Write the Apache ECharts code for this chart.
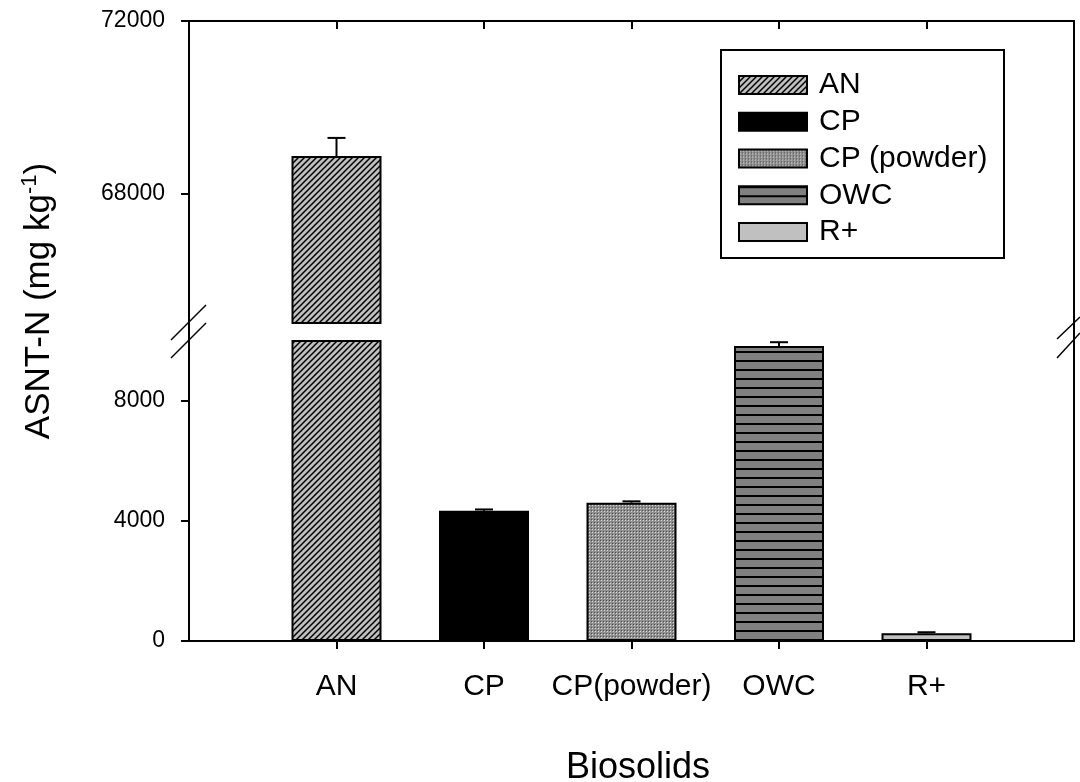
<!DOCTYPE html>
<html>
<head>
<meta charset="utf-8">
<script src="https://cdn.jsdelivr.net/npm/echarts@6/dist/echarts.min.js"></script>
<style>
  html, body { margin: 0; padding: 0; background: #fff; }
  #chart { width: 1080px; height: 782px; }
</style>
</head>
<body>
<div id="chart"></div>
<script>
// Ammonium-N in biosolids, broken y axis
const categories  = ['AN', 'CP', 'CP(powder)', 'OWC', 'R+'];
const legendNames = ['AN', 'CP', 'CP (powder)', 'OWC', 'R+'];
const values      = [68870, 4340, 4610, 9830, 257];
const errors      = [420, 45, 45, 130, 35];
const lowerTicks  = [0, 4000, 8000];
const upperTicks  = [68000, 72000];
const lowerRange  = [0, 10000];
const upperRange  = [65000, 72000];

const FONT = "'Liberation Sans', Arial, Helvetica, sans-serif";

// plot frame geometry
const L = 189, R = 1074, TOP = 21, UPPER_BOTTOM = 323, LOWER_TOP = 341, BOTTOM = 641;

function tile(w, h, draw) {
  const c = document.createElement('canvas');
  c.width = w; c.height = h;
  draw(c.getContext('2d'));
  return { image: c, repeat: 'repeat' };
}

const fills = [
  // diagonal hatch on light gray
  tile(6, 6, g => {
    g.fillStyle = '#c0c0c0'; g.fillRect(0, 0, 6, 6);
    g.strokeStyle = '#000'; g.lineWidth = 1.5;
    g.beginPath();
    g.moveTo(-1, 7); g.lineTo(7, -1);
    g.moveTo(-1, 1); g.lineTo(1, -1);
    g.moveTo(5, 7); g.lineTo(7, 5);
    g.stroke();
  }),
  '#000000',
  // fine dotted screen
  tile(3, 3, g => {
    g.fillStyle = '#8f8f8f'; g.fillRect(0, 0, 3, 3);
    g.fillStyle = '#d8d8d8'; g.fillRect(1, 1, 1, 1);
    g.fillStyle = '#505050'; g.fillRect(0, 0, 1, 1);
  }),
  // horizontal stripes on mid gray
  tile(4, 9, g => {
    g.fillStyle = '#808080'; g.fillRect(0, 0, 4, 9);
    g.fillStyle = '#000'; g.fillRect(0, 0, 4, 2);
  }),
  '#c0c0c0'
];

const xs = categories.map((c, i) => i + 1);

function barSeries(gridIdx, keep) {
  return categories.map((c, i) => ({
    type: 'bar',
    name: legendNames[i],
    xAxisIndex: gridIdx, yAxisIndex: gridIdx,
    data: keep(values[i]) ? [[xs[i], values[i]]] : [],
    barWidth: 90,
    barGap: '-100%',
    clip: true,
    itemStyle: { color: fills[i], borderColor: '#000', borderWidth: 2 },
    emphasis: { disabled: true },
    z: 2
  }));
}

function errorSeries(gridIdx, keep) {
  const data = [];
  values.forEach((v, i) => { if (keep(v)) data.push([xs[i], v, errors[i]]); });
  return {
    type: 'custom',
    xAxisIndex: gridIdx, yAxisIndex: gridIdx,
    data: data,
    z: 5,
    silent: true,
    renderItem: (params, api) => {
      const x = api.value(0), v = api.value(1), e = api.value(2);
      const p0 = api.coord([x, v]);
      const p1 = api.coord([x, v + e]);
      const st = { stroke: '#000', lineWidth: 2 };
      return {
        type: 'group',
        children: [
          { type: 'line', shape: { x1: p0[0], y1: p0[1], x2: p1[0], y2: p1[1] }, style: st },
          { type: 'line', shape: { x1: p1[0] - 9, y1: p1[1], x2: p1[0] + 9, y2: p1[1] }, style: st }
        ]
      };
    }
  };
}

const inUpper = v => v > upperRange[0];
const inLower = v => v <= lowerRange[1];

const axisLine = { show: true, onZero: false, lineStyle: { color: '#000', width: 2 } };

function xAxisFor(gridIdx, pos) {
  const bottom = pos === 'bottom';
  return {
    type: 'value', gridIndex: gridIdx, position: pos,
    min: 0, max: 6,
    axisLine: axisLine,
    splitLine: { show: false },
    axisTick: {
      show: true, inside: !bottom, length: 8, customValues: xs,
      lineStyle: { color: '#000', width: 2 }
    },
    axisLabel: {
      show: bottom, customValues: xs, margin: 31,
      formatter: v => categories[v - 1] || '',
      fontFamily: FONT, fontSize: 30, color: '#000'
    }
  };
}

function yAxisFor(gridIdx, range, ticks) {
  return {
    type: 'value', gridIndex: gridIdx, position: 'left',
    min: range[0], max: range[1],
    axisLine: axisLine,
    splitLine: { show: false },
    axisTick: { show: true, length: 8, customValues: ticks, lineStyle: { color: '#000', width: 2 } },
    axisLabel: {
      customValues: ticks, margin: 24,
      formatter: v => String(v),
      fontFamily: FONT, fontSize: 23, color: '#000'
    }
  };
}

function rightAxisFor(gridIdx, range) {
  return {
    type: 'value', gridIndex: gridIdx, position: 'right',
    min: range[0], max: range[1],
    axisLine: axisLine,
    splitLine: { show: false },
    axisTick: { show: false },
    axisLabel: { show: false }
  };
}

const breakLine = { stroke: '#000', lineWidth: 1.5 };

const option = {
  animation: false,
  backgroundColor: '#fff',
  grid: [
    { left: L, width: R - L, top: TOP, height: UPPER_BOTTOM - TOP },
    { left: L, width: R - L, top: LOWER_TOP, height: BOTTOM - LOWER_TOP }
  ],
  xAxis: [xAxisFor(0, 'top'), xAxisFor(1, 'bottom')],
  yAxis: [
    yAxisFor(0, upperRange, upperTicks),
    yAxisFor(1, lowerRange, lowerTicks),
    rightAxisFor(0, upperRange),
    rightAxisFor(1, lowerRange)
  ],
  legend: {
    data: legendNames,
    orient: 'vertical',
    left: 738, top: 70,
    itemWidth: 68, itemHeight: 18, itemGap: 6.75,
    icon: 'rect',
    selectedMode: false,
    padding: 0,
    textStyle: { fontFamily: FONT, fontSize: 30, color: '#000', padding: [0, 0, 0, 7] }
  },
  series: [
    ...barSeries(0, inUpper),
    ...barSeries(1, () => true),
    errorSeries(0, inUpper),
    errorSeries(1, inLower)
  ],
  graphic: [
    // legend frame
    { type: 'rect', shape: { x: 721, y: 50, width: 283, height: 208 },
      style: { fill: null, stroke: '#000', lineWidth: 2 }, z: 10 },
    // axis continuation through the break
    { type: 'line', shape: { x1: L, y1: UPPER_BOTTOM, x2: L, y2: LOWER_TOP }, style: { stroke: '#000', lineWidth: 2 } },
    { type: 'line', shape: { x1: R, y1: UPPER_BOTTOM, x2: R, y2: LOWER_TOP }, style: { stroke: '#000', lineWidth: 2 } },
    // break marks
    { type: 'line', shape: { x1: L - 18, y1: LOWER_TOP - 1, x2: L + 17, y2: UPPER_BOTTOM - 18 }, style: breakLine },
    { type: 'line', shape: { x1: L - 18, y1: LOWER_TOP + 17, x2: L + 17, y2: UPPER_BOTTOM }, style: breakLine },
    { type: 'line', shape: { x1: R - 17, y1: LOWER_TOP - 2, x2: R + 6, y2: UPPER_BOTTOM - 6 }, style: breakLine },
    { type: 'line', shape: { x1: R - 17, y1: LOWER_TOP + 17, x2: R + 6, y2: UPPER_BOTTOM + 10 }, style: breakLine },
    // axis titles
    { type: 'text', x: 638, y: 768,
      style: { text: 'Biosolids', fontFamily: FONT, fontSize: 36, fill: '#000', align: 'center', verticalAlign: 'middle' } },
    { type: 'text', x: 39, y: 301, rotation: Math.PI / 2,
      style: {
        text: '{a|ASNT-N (mg kg}{s|-1}{a|)}',
        align: 'center', verticalAlign: 'middle', fill: '#000',
        rich: {
          a: { fontFamily: FONT, fontSize: 35, lineHeight: 40, fill: '#000' },
          s: { fontFamily: FONT, fontSize: 22, lineHeight: 22, verticalAlign: 'top', fill: '#000' }
        }
      } }
  ]
};

const chart = echarts.init(document.getElementById('chart'), null, { renderer: 'canvas' });
chart.setOption(option);
</script>
</body>
</html>
